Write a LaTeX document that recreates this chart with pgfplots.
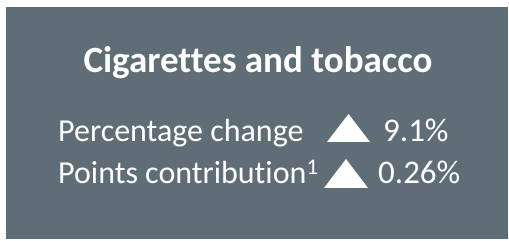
\documentclass[border=0pt]{standalone}
\usepackage{pgfplots}
\pgfplotsset{compat=1.18}
\usepackage{fontspec}
\setmainfont{Carlito}[Ligatures=NoCommon]
\definecolor{bg}{RGB}{95,110,118}
\begin{document}
\begin{tikzpicture}
\begin{axis}[scale only axis, width=509pt, height=241pt,
  xmin=0, xmax=509, ymin=0, ymax=241, axis lines=none, clip=false]
\addplot[fill=white, draw=none] coordinates {(0,0) (509,0) (509,241) (0,241)} -- cycle;
\addplot[fill=bg, draw=none] coordinates {(6,2) (508,2) (508,234) (6,234)} -- cycle;
\addplot[fill=white, draw=none] coordinates {(327,99) (370,99) (348.5,127)} -- cycle;
\addplot[fill=white, draw=none] coordinates {(324,53) (368,53) (346,82)} -- cycle;
\node[anchor=base, text=white, font=\fontsize{37}{42}\selectfont\bfseries, inner sep=0pt] at (axis cs:258,168) {Cigarettes and tobacco};
\node[anchor=base west, text=white, font=\fontsize{32}{36}\selectfont, inner sep=0pt] at (axis cs:58,99) {Percentage change};
\node[anchor=base west, text=white, font=\fontsize{32}{36}\selectfont, inner sep=0pt] at (axis cs:58,57) {Points contribution\textsuperscript{1}};
\node[anchor=base west, text=white, font=\fontsize{33}{36}\selectfont, inner sep=0pt] at (axis cs:383,99) {9.1\%};
\node[anchor=base west, text=white, font=\fontsize{33}{36}\selectfont, inner sep=0pt] at (axis cs:378,57) {0.26\%};
\end{axis}
\end{tikzpicture}
\end{document}
